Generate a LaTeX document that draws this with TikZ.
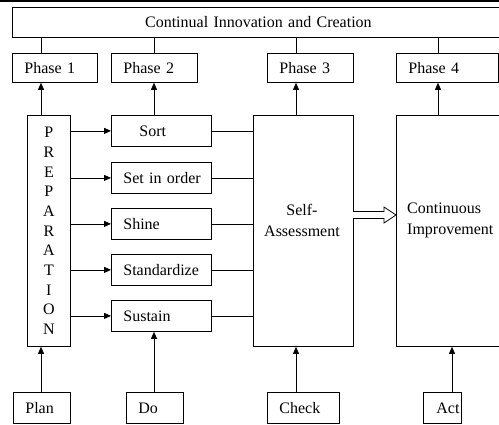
\documentclass[tikz,border=0pt]{standalone}
\usepackage{fontspec}
\setmainfont{Liberation Serif}
\usetikzlibrary{arrows.meta,calc}
\newcommand{\padl}{\hspace*{12pt}}
\begin{document}
\begin{tikzpicture}[x=1pt,y=-1pt,
  bx/.style={draw, line width=0.8pt, inner xsep=0pt, inner ysep=0pt, anchor=north west, font=\fontsize{16}{19}\selectfont},
  tb/.style={bx, align=left},
  lbl/.style={font=\fontsize{16}{21}\selectfont, inner sep=0pt},
  ln/.style={line width=0.8pt},
  arr/.style={line width=0.8pt, -{Triangle[length=7pt,width=6pt]}}]
\useasboundingbox (0,0) rectangle (499,424);
\clip (0,0) rectangle (499,424);
\draw[line width=1.6pt] (0,1) -- (499,1);
% column coordinates
\coordinate (c1) at (41,0);
\coordinate (c2) at (154,0);
\coordinate (c3) at (296,0);
\coordinate (c4) at (438,0);
\coordinate (c5) at (452,0);
% top box
\node[bx, minimum width=492, minimum height=30, text width=492, align=center] (top) at (12,7) {Continual Innovation and Creation};
% phase boxes
\node[tb, minimum width=85, minimum height=29, text width=85] (p1) at (12,53) {\padl Phase 1};
\node[tb, minimum width=86, minimum height=29, text width=86] (p2) at (111,53) {\padl Phase 2};
\node[tb, minimum width=86, minimum height=29, text width=86] (p3) at (267,53) {\padl Phase 3};
\node[tb, minimum width=102, minimum height=29, text width=102] (p4) at (396,53) {\padl Phase 4};
% preparation
\node[bx, minimum width=43, minimum height=231, text width=40, align=center, font=\fontsize{16}{19.7}\selectfont] (prep) at (27,115) {P\\R\\E\\P\\A\\R\\A\\T\\I\\O\\N};
% 5S boxes
\node[tb, minimum width=100, minimum height=31, text width=100] (s1) at (111,115) {\hspace*{28pt}Sort};
\node[tb, minimum width=100, minimum height=31, text width=100] (s2) at (111,162) {\padl Set in order};
\node[tb, minimum width=100, minimum height=31, text width=100] (s3) at (111,208) {\padl Shine};
\node[tb, minimum width=100, minimum height=31, text width=100] (s4) at (111,254) {\padl Standardize};
\node[tb, minimum width=100, minimum height=31, text width=100] (s5) at (111,300) {\padl Sustain};
% big boxes
\node[bx, minimum width=100, minimum height=231] (sa) at (253,115) {};
\node[lbl, align=center] (satext) at (302,220.5) {Self-\\Assessment};
\node[bx, minimum width=120, minimum height=231] (ci) at (396,115) {};
\node[lbl, align=left, anchor=west] (citext) at (407,220.5) {Continuous\\Improvement};
% bottom boxes
\node[tb, minimum width=57, minimum height=31, text width=57] (plan) at (13,392) {\padl Plan};
\node[tb, minimum width=57, minimum height=31, text width=57] (do) at (126,392) {\padl Do};
\node[tb, minimum width=72, minimum height=31, text width=72] (check) at (267,392) {\padl Check};
\node[tb, minimum width=38, minimum height=31, text width=38] (act) at (423,392) {\hspace*{13pt}Act};
% lines to top box
\draw[ln] (c1 |- top.south) -- (c1 |- p1.north);
\draw[ln] (c2 |- top.south) -- (c2 |- p2.north);
\draw[ln] (c3 |- top.south) -- (c3 |- p3.north);
\draw[ln] (c4 |- top.south) -- (c4 |- p4.north);
% arrows into phases
\draw[arr] (c1 |- prep.north) -- (c1 |- p1.south);
\draw[arr] (c2 |- s1.north) -- (c2 |- p2.south);
\draw[arr] (c3 |- sa.north) -- (c3 |- p3.south);
\draw[arr] (c4 |- ci.north) -- (c4 |- p4.south);
% preparation to 5S
\foreach \s in {s1,s2,s3,s4,s5}{
  \draw[arr] (prep.east |- \s.west) -- (\s.west);
  \draw[ln] (\s.east) -- (sa.west |- \s.east);
}
% bottom arrows
\draw[arr] (c1 |- plan.north) -- (c1 |- prep.south);
\draw[arr] (c2 |- do.north) -- (c2 |- s5.south);
\draw[arr] (c3 |- check.north) -- (c3 |- sa.south);
\draw[arr] (c5 |- act.north) -- (c5 |- ci.south);
% hollow arrow
\coordinate (ha) at (353,215);
\draw[line width=0.8pt, fill=white] (ha) ++(0,-3.5) -- ++(31,0) -- ++(0,-4.5) -- (ci.west |- ha) -- ++(-12,8) -- ++(0,-4.5) -- ++(-31,0);
\end{tikzpicture}
\end{document}
